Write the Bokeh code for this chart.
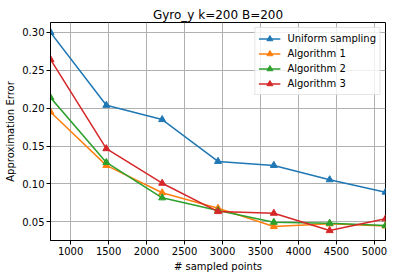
from bokeh.plotting import figure
from bokeh.models import Range1d, FixedTicker, Legend, LegendItem
from bokeh.embed import file_html
from bokeh.resources import INLINE

# ---- data ----
x_points = [735, 1470, 2205, 2940, 3675, 4410, 5145]
uniform_sampling = [0.300, 0.2038, 0.1850, 0.1298, 0.1245, 0.1056, 0.0892]
algorithm_1 = [0.1950, 0.1245, 0.0884, 0.0680, 0.0438, 0.0474, 0.0447]
algorithm_2 = [0.2140, 0.1284, 0.0817, 0.0650, 0.0495, 0.0482, 0.0451]
algorithm_3 = [0.2643, 0.1466, 0.1010, 0.0636, 0.0614, 0.0385, 0.0540]
series_names = ["Uniform sampling", "Algorithm 1", "Algorithm 2", "Algorithm 3"]
series_colors = ["#1f77b4", "#ff7f0e", "#2ca02c", "#d62728"]
x_ticks = [1000, 1500, 2000, 2500, 3000, 3500, 4000, 4500, 5000]
y_ticks = [0.05, 0.10, 0.15, 0.20, 0.25, 0.30]
title_text = "Gyro_y k=200 B=200"
x_label = "# sampled points"
y_label = "Approximation Error"

series = [uniform_sampling, algorithm_1, algorithm_2, algorithm_3]
all_y = [v for s in series for v in s]
ymin, ymax = min(all_y), max(all_y)
pad = 0.05 * (ymax - ymin)

FONT = "DejaVu Sans"

p = figure(width=395, height=278, output_backend="svg", toolbar_location=None,
           x_range=Range1d(x_points[0], x_points[-1]),
           y_range=Range1d(ymin - pad, ymax + pad),
           min_border_left=50, min_border_right=10, min_border_top=22, min_border_bottom=38)

p.title.text = title_text
p.title.align = "center"
p.title.text_font = FONT
p.title.text_font_size = "12px"
p.title.text_font_style = "normal"
p.title.text_color = "black"
p.title.standoff = 2
p.title.offset = 0

p.outline_line_color = "black"
p.outline_line_width = 1
p.background_fill_color = "white"
p.border_fill_color = "white"

for ax in (p.xaxis[0], p.yaxis[0]):
    ax.axis_line_color = "black"
    ax.major_tick_line_color = "black"
    ax.major_tick_out = 4
    ax.major_tick_in = 0
    ax.minor_tick_line_color = None
    ax.major_label_text_font = FONT
    ax.major_label_text_font_size = "10px"
    ax.major_label_text_color = "black"
    ax.axis_label_text_font = FONT
    ax.axis_label_text_font_size = "10px"
    ax.axis_label_text_font_style = "normal"
    ax.axis_label_text_color = "black"
    ax.major_label_standoff = 2
    ax.axis_label_standoff = 3

p.xaxis.ticker = FixedTicker(ticks=x_ticks)
p.yaxis.ticker = FixedTicker(ticks=y_ticks)
p.yaxis.major_label_overrides = {t: f"{t:.2f}" for t in y_ticks}
p.xaxis.axis_label = x_label
p.yaxis.axis_label = y_label

p.xgrid.ticker = FixedTicker(ticks=x_ticks)
p.ygrid.ticker = FixedTicker(ticks=y_ticks)
p.grid.grid_line_color = "#b0b0b0"
p.grid.grid_line_width = 1

items = []
for name, ys, c in zip(series_names, series, series_colors):
    r1 = p.line(x_points, ys, line_color=c, line_width=1.5)
    r2 = p.scatter(x_points, ys, marker="triangle", size=7, fill_color=c, line_color=c)
    items.append(LegendItem(label=name, renderers=[r1, r2]))

legend = Legend(items=items, location="top_right")
legend.margin = 5
legend.padding = 3
legend.spacing = 0
legend.label_height = 15
legend.glyph_height = 15
legend.glyph_width = 22
legend.label_standoff = 7
legend.label_text_font = FONT
legend.label_text_font_size = "10px"
legend.label_text_color = "black"
legend.border_line_color = "#cccccc"
legend.border_line_width = 1
legend.background_fill_color = "white"
legend.background_fill_alpha = 0.8
p.add_layout(legend, "center")

open("out.html", "w").write(file_html(p, INLINE))
